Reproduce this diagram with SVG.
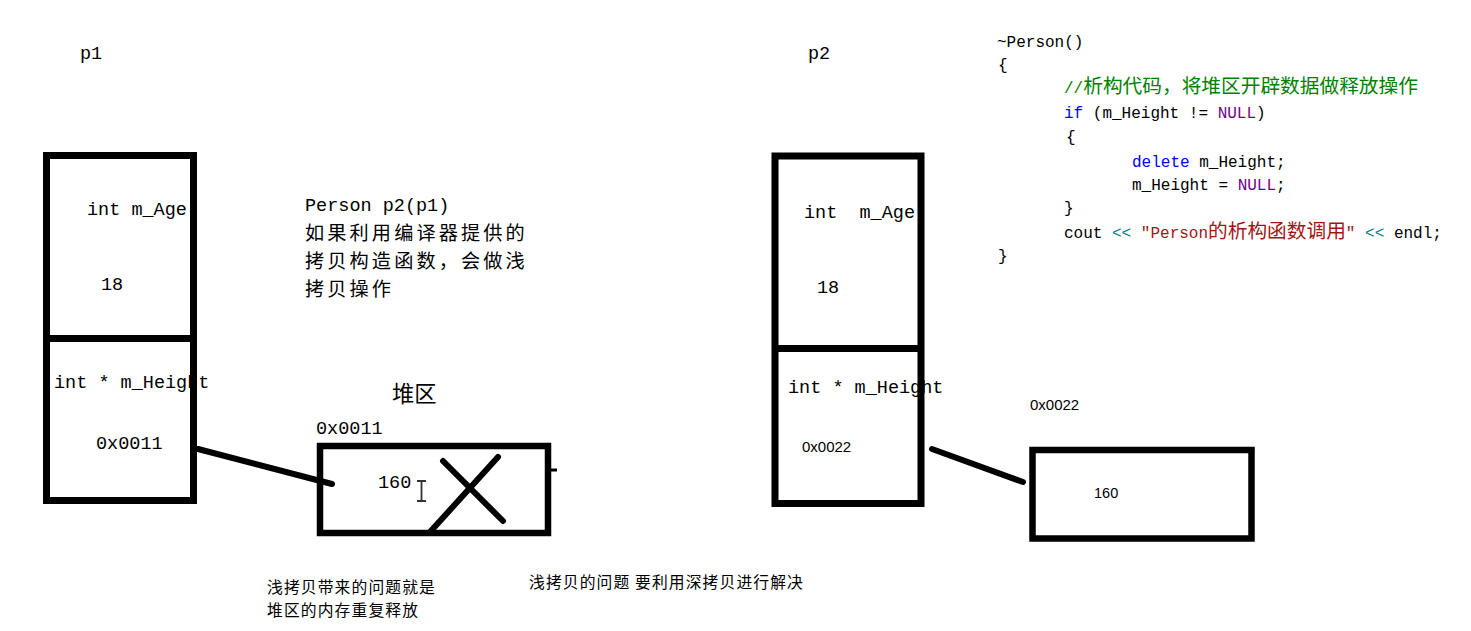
<svg xmlns="http://www.w3.org/2000/svg" width="1471" height="631" viewBox="0 0 1471 631">
<style>
.bg{fill:#ffffff}
.box{fill:none;stroke:#000;stroke-width:7}
.heap{fill:none;stroke:#000;stroke-width:6.5}
.div{stroke:#000;stroke-width:7}
.conn{stroke:#000;stroke-width:6;stroke-linecap:round}
.mono{font-family:"Liberation Mono","DejaVu Sans Mono",monospace;font-size:18.5px;fill:#000}
.cjk{font-family:"Noto Sans CJK SC","Noto Sans CJK TC",sans-serif;font-size:22.3px;fill:#000}
.cjk2{font-family:"Noto Sans CJK SC","Noto Sans CJK TC",sans-serif;font-size:19.2px;letter-spacing:3.1px;fill:#000}
.small{font-family:"Liberation Sans",Arial,sans-serif;font-size:15px;fill:#000}
.note{font-family:"Noto Sans CJK SC","Noto Sans CJK TC",sans-serif;font-size:15.8px;letter-spacing:1.1px;fill:#000}
.code{font-family:"Liberation Mono","DejaVu Sans Mono",monospace;font-size:16px;fill:#000}
.ccjk{font-family:"Noto Sans CJK SC","Noto Sans CJK TC",sans-serif;font-size:19.7px}
.kw{fill:#0000ff}
.nul{fill:#6f008a}
.cm{fill:#008000}
.op{fill:#008080}
.str{fill:#a31515}
</style>
<rect class="bg" x="0" y="0" width="1471" height="631"/>

<g id="p1">
  <text class="mono" x="80" y="59">p1</text>
  <text class="mono" x="87" y="215">int m_Age</text>
  <text class="mono" x="101" y="290">18</text>
  <text class="mono" x="54" y="388">int * m_Height</text>
  <text class="mono" x="96" y="449">0x0011</text>
  <rect class="box" x="46.5" y="155.5" width="147" height="345"/>
  <line class="div" x1="46.5" y1="338.5" x2="193.5" y2="338.5"/>
</g>

<g id="note-copy">
  <text class="mono" x="305" y="211">Person p2(p1)</text>
  <text class="cjk2" x="305" y="240">如果利用编译器提供的</text>
  <text class="cjk2" x="305" y="268">拷贝构造函数，会做浅</text>
  <text class="cjk2" x="305" y="296">拷贝操作</text>
</g>

<g id="heap1">
  <text class="cjk" x="392" y="402">堆区</text>
  <text class="mono" x="316" y="434">0x0011</text>
  <rect class="heap" x="320" y="446" width="228" height="87"/>
  <text class="mono" x="378" y="488">160</text>
  <line class="conn" x1="443" y1="461" x2="503" y2="521"/>
  <line class="conn" x1="498" y1="457" x2="430" y2="532"/>
  <line x1="551" y1="470" x2="557" y2="470" stroke="#000" stroke-width="3"/>
  <path d="M417 481 H426 M421.5 481 V501 M417 501 H426" stroke="#333" stroke-width="1.8" fill="none"/>
</g>

<g id="p2">
  <text class="mono" x="808" y="59">p2</text>
  <text class="mono" x="804" y="218" xml:space="preserve">int  m_Age</text>
  <text class="mono" x="817" y="293">18</text>
  <text class="mono" x="788" y="393">int * m_Height</text>
  <text class="small" x="802" y="452">0x0022</text>
  <rect class="box" x="775" y="156" width="146" height="347.5"/>
  <line class="div" x1="775" y1="348.5" x2="921" y2="348.5"/>
</g>

<g id="heap2">
  <text class="small" x="1030" y="410">0x0022</text>
  <rect class="heap" x="1032.5" y="450" width="219" height="88.5"/>
  <text class="small" x="1094" y="498" style="font-size:14.5px">160</text>
</g>

<g id="connectors">
  <line class="conn" x1="198" y1="449" x2="332" y2="484"/>
  <line class="conn" x1="932" y1="449" x2="1023" y2="482"/>
</g>

<g id="code">
  <text class="code" x="997" y="47">~Person()</text>
  <text class="code" x="998" y="70">{</text>
  <text class="code cm" x="1064" y="93">//<tspan class="ccjk">析构代码，将堆区开辟数据做释放操作</tspan></text>
  <text class="code" x="1064" y="118" xml:space="preserve"><tspan class="kw">if</tspan> (m_Height != <tspan class="nul">NULL</tspan>)</text>
  <text class="code" x="1066" y="142">{</text>
  <text class="code" x="1132" y="167" xml:space="preserve"><tspan class="kw">delete</tspan> m_Height;</text>
  <text class="code" x="1132" y="190" xml:space="preserve">m_Height = <tspan class="nul">NULL</tspan>;</text>
  <text class="code" x="1064" y="213">}</text>
  <text class="code" x="1064" y="238" xml:space="preserve">cout <tspan class="op">&lt;&lt;</tspan> <tspan class="str">"Person<tspan class="ccjk">的析构函数调用</tspan>"</tspan> <tspan class="op">&lt;&lt;</tspan> endl;</text>
  <text class="code" x="998" y="261">}</text>
</g>

<g id="notes-bottom">
  <text class="note" x="267" y="593">浅拷贝带来的问题就是</text>
  <text class="note" x="267" y="616">堆区的内存重复释放</text>
  <text class="note" x="529" y="588">浅拷贝的问题 要利用深拷贝进行解决</text>
</g>
</svg>
